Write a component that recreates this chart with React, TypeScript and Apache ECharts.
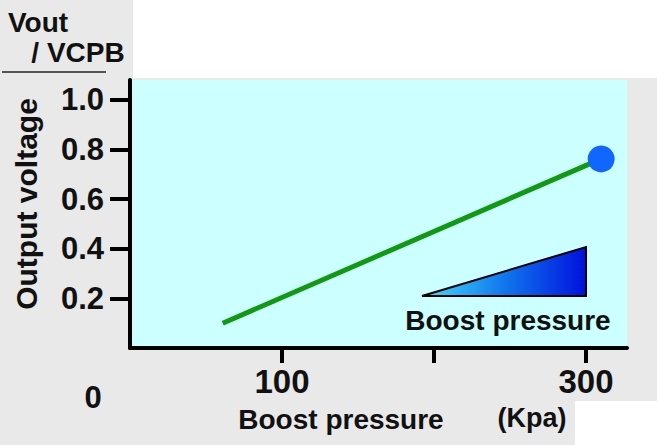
import React, { useEffect, useRef } from "react";
import * as echarts from "echarts";

// Data
const lineData: [number, number][] = [
  [61, 0.1],
  [310, 0.762],
];
const endPoint: [number, number][] = [[310, 0.762]];
const xTickValues = [100, 200, 300];
const xLabelValues = [100, 300];
const yTickValues = [0.2, 0.4, 0.6, 0.8, 1.0];

const FONT = "Liberation Sans, Arial, sans-serif";

export default function App() {
  const ref = useRef<HTMLDivElement>(null);
  useEffect(() => {
    if (!ref.current) return;
    const chart = echarts.init(ref.current, null, { renderer: "svg" });
    const txt = (x: number, y: number, text: string, size: number, extra: any = {}) => ({
      type: "text",
      x,
      y,
      style: {
        text,
        fontFamily: FONT,
        fontWeight: "bold",
        fontSize: size,
        fill: "#111",
        align: "center",
        verticalAlign: "middle",
      },
      ...extra,
    });
    chart.setOption({
      animation: false,
      backgroundColor: "#e9e9e9",
      grid: { left: 130, top: 80, right: 30, bottom: 97, containLabel: false, show: true, backgroundColor: "#ccffff", borderWidth: 0 },
      xAxis: {
        type: "value",
        min: 0,
        max: 327,
        interval: 100,
        splitLine: { show: false },
        axisLine: { show: true, onZero: false, lineStyle: { color: "#000", width: 4 } },
        axisTick: { show: true, length: 15, customValues: xTickValues, lineStyle: { color: "#000", width: 4 } },
        axisLabel: {
          customValues: xLabelValues,
          formatter: (v: number) => (xLabelValues.includes(v) ? String(v) : ""),
          margin: 17,
          fontFamily: FONT,
          fontWeight: "bold",
          fontSize: 33,
          color: "#111",
        },
      },
      yAxis: {
        type: "value",
        min: 0,
        max: 1.08,
        interval: 0.2,
        splitLine: { show: false },
        axisLine: { show: true, onZero: false, lineStyle: { color: "#000", width: 4 } },
        axisTick: { show: true, length: 20, customValues: yTickValues, lineStyle: { color: "#000", width: 4 } },
        axisLabel: {
          customValues: yTickValues,
          formatter: (v: number) => (v === 0 ? "" : v.toFixed(1)),
          margin: 26,
          fontFamily: FONT,
          fontWeight: "bold",
          fontSize: 31,
          color: "#111",
        },
      },
      series: [
        {
          type: "line",
          data: lineData,
          symbol: "none",
          lineStyle: { color: "#119911", width: 5 },
          z: 2,
        },
        {
          type: "scatter",
          data: endPoint,
          symbolSize: 27,
          itemStyle: { color: "#1166ff", opacity: 1 },
          z: 3,
        },
      ],
      graphic: [
        { type: "rect", shape: { x: 133, y: 0, width: 524, height: 78 }, style: { fill: "#ffffff" }, z: -1 },
        { type: "rect", shape: { x: 575, y: 401, width: 82, height: 44 }, style: { fill: "#ffffff" }, z: -1 },
        txt(38, 22, "Vout", 28),
        txt(78, 52, "/ VCPB", 28),
        { type: "line", shape: { x1: 2, y1: 72, x2: 106, y2: 72 }, style: { stroke: "#555", lineWidth: 2 } },
        txt(26, 204, "Output voltage", 30, { rotation: Math.PI / 2 }),
        txt(93, 397, "0", 31),
        txt(341, 419, "Boost pressure", 28),
        txt(532, 418, "(Kpa)", 27),
        {
          type: "polygon",
          shape: { points: [[422, 296], [586, 247], [586, 296]] },
          style: {
            fill: new echarts.graphic.LinearGradient(0, 0, 1, 0, [
              { offset: 0, color: "#44ddff" },
              { offset: 0.5, color: "#1177ee" },
              { offset: 1, color: "#0011dd" },
            ]),
            stroke: "#000",
            lineWidth: 2,
          },
        },
        txt(508, 320, "Boost pressure", 28),
      ],
    });
    return () => chart.dispose();
  }, []);
  return <div ref={ref} style={{ position: "absolute", left: 0, top: 0, width: 657, height: 445 }} />;
}
